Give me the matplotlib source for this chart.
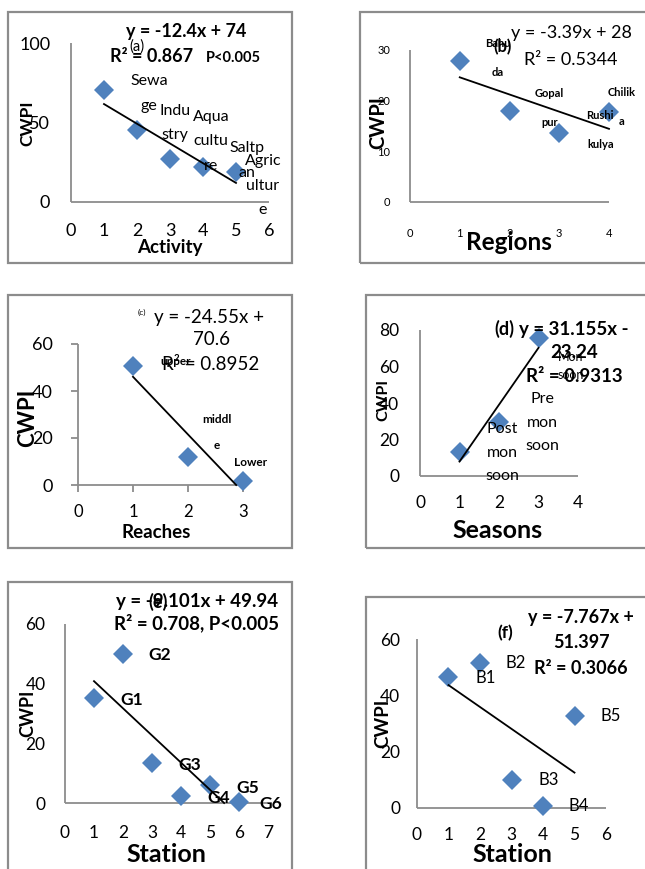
import numpy as np
import matplotlib
matplotlib.use('Agg')
import matplotlib.pyplot as plt
from matplotlib.patches import Rectangle

plt.rcParams['font.family'] = ['Lato', 'DejaVu Sans']

# (a) activity
activity_x = [1, 2, 3, 4, 5]
activity_cwpi = [70.4, 45.3, 26.8, 22.2, 19.0]
activity_names = ['Sewa\nge', 'Indu\nstry', 'Aqua\ncultu\nre', 'Saltp\nan', 'Agric\nultur\ne']
activity_fit = (-12.4, 74)

# (b) regions
region_x = [1, 2, 3, 4]
region_cwpi = [27.8, 17.9, 13.7, 17.8]
region_names = ['Bahu\nda', 'Gopal\npur', 'Rushi\nkulya', 'Chilik\na']
region_fit = (-3.39, 28)

# (c) reaches
reach_x = [1, 2, 3]
reach_cwpi = [50.8, 11.8, 1.7]
reach_names = ['upper', 'middl\ne', 'Lower']
reach_fit = (-24.55, 70.6)

# (d) seasons
season_x = [1, 2, 3]
season_cwpi = [13.3, 29.8, 75.4]
season_names = ['Post\nmon\nsoon', 'Pre\nmon\nsoon', 'Mon\nsoon']
season_fit = (31.155, -23.24)

# (e) stations G
g_x = [1, 2, 3, 4, 5, 6]
g_cwpi = [35.1, 49.9, 13.3, 2.3, 6.0, 0.4]
g_names = ['G1', 'G2', 'G3', 'G4', 'G5', 'G6']
g_fit = (-9.101, 49.94)

# (f) stations B
b_x = [1, 2, 3, 4, 5]
b_cwpi = [46.4, 51.6, 9.9, 0.8, 32.7]
b_names = ['B1', 'B2', 'B3', 'B4', 'B5']
b_fit = (-7.767, 51.397)

W, H = 645, 869
BLUE = '#4F81BD'
GREY = '#8c8c8c'
fig = plt.figure(figsize=(W / 100, H / 100), dpi=100)


def frame(x0, y0, x1, y1):
    fig.add_artist(Rectangle((x0 / W, 1 - y1 / H), (x1 - x0) / W, (y1 - y0) / H,
                             transform=fig.transFigure, fill=False, ec=GREY, lw=1.6))


def put(x, y, s, **kw):
    kw.setdefault('ha', 'center')
    kw.setdefault('va', 'center')
    fig.text(x / W, 1 - y / H, s, **kw)


def panel(px, lims, ystep, tfs, pads, ticklen=0):
    x0, x1, ytop, ybot = px
    xmax, ymax = lims
    ax = fig.add_axes([x0 / W, 1 - ybot / H, (x1 - x0) / W, (ybot - ytop) / H])
    ax.set_xlim(0, xmax)
    ax.set_ylim(0, ymax)
    ax.patch.set_alpha(0)
    for s in ['top', 'right']:
        ax.spines[s].set_visible(False)
    for s in ['left', 'bottom']:
        ax.spines[s].set_color(GREY)
        ax.spines[s].set_linewidth(1.3)
        ax.spines[s].set_capstyle('butt')
    ax.set_xticks(np.arange(0, xmax + 1))
    ax.set_yticks(np.arange(0, ymax + 1, ystep))
    ax.tick_params(axis='x', labelsize=tfs[0], pad=pads[0], length=ticklen,
                   direction='out', color=GREY, width=1.3, labelcolor='black')
    ax.tick_params(axis='y', labelsize=tfs[1], pad=pads[1], length=ticklen,
                   direction='out', color=GREY, width=1.3, labelcolor='black')
    return ax


def axis_labels(ax, px, xl, yl):
    x0, x1, ytop, ybot = px
    (xt, xx, xy, xfs), (yt, yx, yy, yfs) = xl, yl
    ax.set_xlabel(xt, fontsize=xfs, fontweight='bold', va='center', ha='center')
    ax.xaxis.set_label_coords((xx - x0) / (x1 - x0), (ybot - xy) / (ybot - ytop))
    ax.set_ylabel(yt, fontsize=yfs, fontweight='bold', va='center', ha='center')
    ax.yaxis.set_label_coords((yx - x0) / (x1 - x0), (ybot - yy) / (ybot - ytop))


def points(ax, xs, ys):
    ax.plot(xs, ys, 'D', color=BLUE, ms=10.3, mew=0, clip_on=False, zorder=3)


def trend(ax, xs, fit):
    m, b = fit
    xa, xb = min(xs), max(xs)
    if m * xb + b < 0:
        xb = -b / m
    ax.plot([xa, xb], [m * xa + b, m * xb + b], color='black', lw=1.3, clip_on=False, zorder=4)


def names(ax, xs, ys, labels, offs, ha, fs, fw, ls):
    for x, y, t, (dx, dy) in zip(xs, ys, labels, offs):
        ax.annotate(t, (x, y), xytext=(dx, dy), textcoords='offset pixels', ha=ha, va='center',
                    multialignment='center', fontsize=fs, fontweight=fw, linespacing=ls,
                    annotation_clip=False, zorder=5)


# ---------- (a) ----------
frame(8, 12, 292, 263)
pa = (71, 269, 43, 202)
ax = panel(pa, (6, 100), 50, (13, 13), (15, 15))
points(ax, activity_x, activity_cwpi)
trend(ax, activity_x, activity_fit)
names(ax, activity_x, activity_cwpi, activity_names,
      [(45, -3.5), (38, 7), (41, 18), (44, 6), (27, -14)], 'center', 11.5, 'normal', 1.95)
axis_labels(ax, pa, ('Activity', 170, 247, 13.5), ('CWPI', 27, 123, 12.5))
put(137, 47, '(a)', fontsize=10.5)
put(186, 32, 'y = -12.4x + 74', fontsize=13, fontweight='bold')
put(152, 57, 'R² = 0.867', fontsize=13, fontweight='bold')
put(233, 58, 'P<0.005', fontsize=10.5, fontweight='bold')

# ---------- (b) ----------
frame(360, 12, 660, 263)
pb = (410, 609, 50, 202)
ax = panel(pb, (4, 30), 10, (8, 8), (19, 14))
points(ax, region_x, region_cwpi)
trend(ax, region_x, region_fit)
names(ax, region_x, region_cwpi, region_names,
      [(38, 3), (40, 3.5), (41, 3), (13, 4.5)], 'center', 8, 'bold', 3.0)
axis_labels(ax, pb, ('Regions', 509, 242, 17.5), ('CWPI', 378, 123, 14.5))
put(503, 47, '(b)', fontsize=12, fontweight='bold')
put(571, 33, 'y = -3.39x + 28', fontsize=13)
put(571, 60, 'R² = 0.5344', fontsize=13)

# ---------- (c) ----------
frame(8, 295, 292, 548)
pc = (78, 243, 344, 485)
ax = panel(pc, (3, 60), 20, (12, 13), (9, 13), ticklen=5)
points(ax, reach_x, reach_cwpi)
trend(ax, reach_x, reach_fit)
names(ax, reach_x, reach_cwpi, reach_names,
      [(43, 4), (29, 25), (8, 19)], 'center', 8.5, 'bold', 2.7)
axis_labels(ax, pc, ('Reaches', 156, 532, 13.5), ('CWPI', 28, 418, 16))
put(142, 312, '(c)', fontsize=6)
put(209, 317, 'y = -24.55x +', fontsize=13.5)
put(211, 340, '70.6', fontsize=13.5)
put(211, 365, 'R² = 0.8952', fontsize=13.5)

# ---------- (d) ----------
frame(366, 295, 660, 548)
pd_ = (420, 578, 330, 476)
ax = panel(pd_, (4, 80), 20, (12.5, 12.5), (14, 15))
points(ax, season_x, season_cwpi)
trend(ax, season_x, season_fit)
names(ax, season_x[:2], season_cwpi[:2], season_names[:2],
      [(43, -1), (43, -1)], 'center', 11.5, 'normal', 1.85)
names(ax, season_x[2:], season_cwpi[2:], season_names[2:],
      [(32, -28)], 'center', 9, 'normal', 1.6)
axis_labels(ax, pd_, ('Seasons', 498, 530, 18), ('CWPI', 383, 400, 11.5))
put(504, 329, '(d)', fontsize=13, fontweight='bold')
put(574, 329, 'y = 31.155x -', fontsize=13.5, fontweight='bold')
put(574, 352, '23.24', fontsize=13.5, fontweight='bold')
put(574, 377, 'R² = 0.9313', fontsize=13.5, fontweight='bold')

# ---------- (e) ----------
frame(8, 582, 292, 880)
pe = (65, 268, 624, 803)
ax = panel(pe, (7, 60), 20, (12.5, 12.5), (16, 14))
points(ax, g_x, g_cwpi)
trend(ax, g_x, g_fit)
names(ax, g_x, g_cwpi, g_names,
      [(26, -2), (25, -1), (26, -2), (26, -2), (26, -3), (20, -2)], 'left', 12.5, 'bold', 1.2)
axis_labels(ax, pe, ('Station', 166, 855, 18), ('CWPI', 28, 713, 13))
put(158, 602, '(e)', fontsize=13, fontweight='bold')
put(197, 602, 'y = -9.101x + 49.94', fontsize=13.5, fontweight='bold')
put(197, 623, 'R² = 0.708, P<0.005', fontsize=13.5, fontweight='bold')

# ---------- (f) ----------
frame(366, 597, 660, 880)
pf = (417, 606, 639, 808)
ax = panel(pf, (6, 60), 20, (12.5, 12.5), (14, 12))
points(ax, b_x, b_cwpi)
trend(ax, b_x, b_fit)
names(ax, b_x, b_cwpi, b_names,
      [(27, -1), (26, 0), (27, 0), (26, 0), (26, 0)], 'left', 12, 'normal', 1.2)
axis_labels(ax, pf, ('Station', 512, 855, 18), ('CWPI', 383, 723, 13.5))
put(505, 633, '(f)', fontsize=12.5, fontweight='bold')
put(581, 617, 'y = -7.767x +', fontsize=13, fontweight='bold')
put(581, 642, '51.397', fontsize=13, fontweight='bold')
put(581, 668, 'R² = 0.3066', fontsize=13, fontweight='bold')

fig.savefig('out.png', dpi=100)
